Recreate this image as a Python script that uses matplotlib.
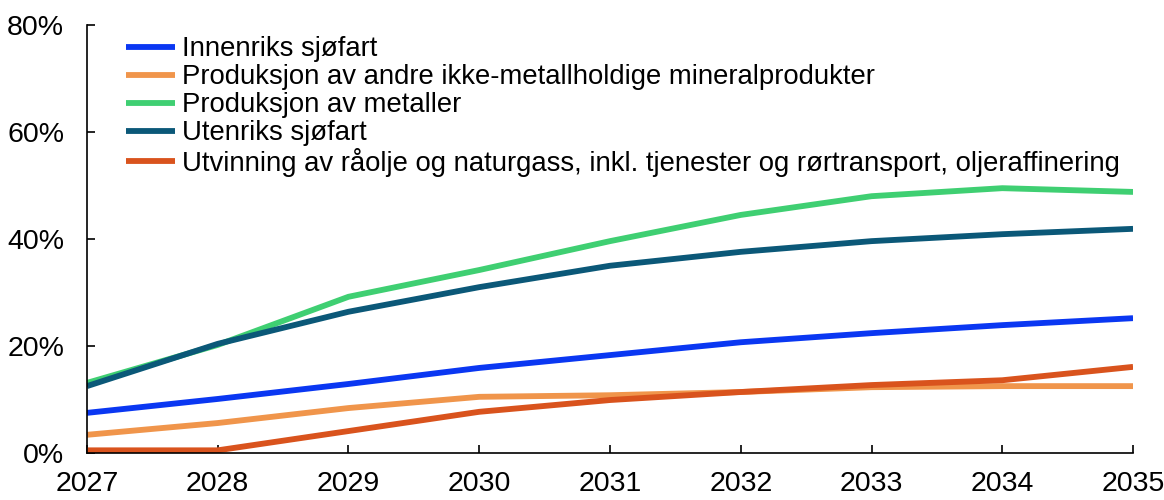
import matplotlib
matplotlib.use("Agg")
import matplotlib.pyplot as plt
from matplotlib.ticker import FuncFormatter

plt.rcParams["font.family"] = ["Liberation Sans", "DejaVu Sans"]

# Data (andel, prosent)
years = [2027, 2028, 2029, 2030, 2031, 2032, 2033, 2034, 2035]
innenriks = [7.5, 10.1, 12.9, 15.9, 18.3, 20.7, 22.4, 23.9, 25.2]
mineral = [3.4, 5.6, 8.4, 10.5, 10.8, 11.4, 12.3, 12.5, 12.5]
metaller = [13.1, 20.2, 29.2, 34.2, 39.6, 44.5, 48.0, 49.5, 48.8]
utenriks = [12.5, 20.4, 26.4, 31.0, 35.0, 37.6, 39.6, 40.9, 41.9]
utvinning = [0.5, 0.5, 4.1, 7.7, 9.9, 11.4, 12.7, 13.6, 16.1]

series = [
    ("Innenriks sjøfart", innenriks, "#0A37F2"),
    ("Produksjon av andre ikke-metallholdige mineralprodukter", mineral, "#F0954B"),
    ("Produksjon av metaller", metaller, "#3FCF72"),
    ("Utenriks sjøfart", utenriks, "#0B5878"),
    ("Utvinning av råolje og naturgass, inkl. tjenester og rørtransport, oljeraffinering",
     utvinning, "#D9531D"),
]

fig = plt.figure(figsize=(11.64, 5.0), dpi=100)
ax = fig.add_axes([0.0747, 0.094, 0.8987, 0.856])

for label, vals, col in series:
    ax.plot(years, vals, color=col, linewidth=4.2, label=label, solid_capstyle="butt")

ax.set_xlim(2027, 2035)
ax.set_ylim(0, 80)
ax.set_xticks(years)
ax.set_yticks([0, 20, 40, 60, 80])
ax.yaxis.set_major_formatter(FuncFormatter(lambda v, p: f"{v:.0f}%"))

for s in ["top", "right"]:
    ax.spines[s].set_visible(False)
for s in ["left", "bottom"]:
    ax.spines[s].set_linewidth(1.2)
ax.tick_params(axis="both", direction="in", length=6, width=1.2, labelsize=20.5)
ax.tick_params(axis="y", pad=16.5)
ax.tick_params(axis="x", pad=13)

ax.legend(loc="upper left", bbox_to_anchor=(0.022, 1.012), frameon=False, fontsize=19.8,
          handlelength=1.78, handletextpad=0.25, labelspacing=0.07, borderaxespad=0.2)

fig.savefig("out.png", dpi=100)
